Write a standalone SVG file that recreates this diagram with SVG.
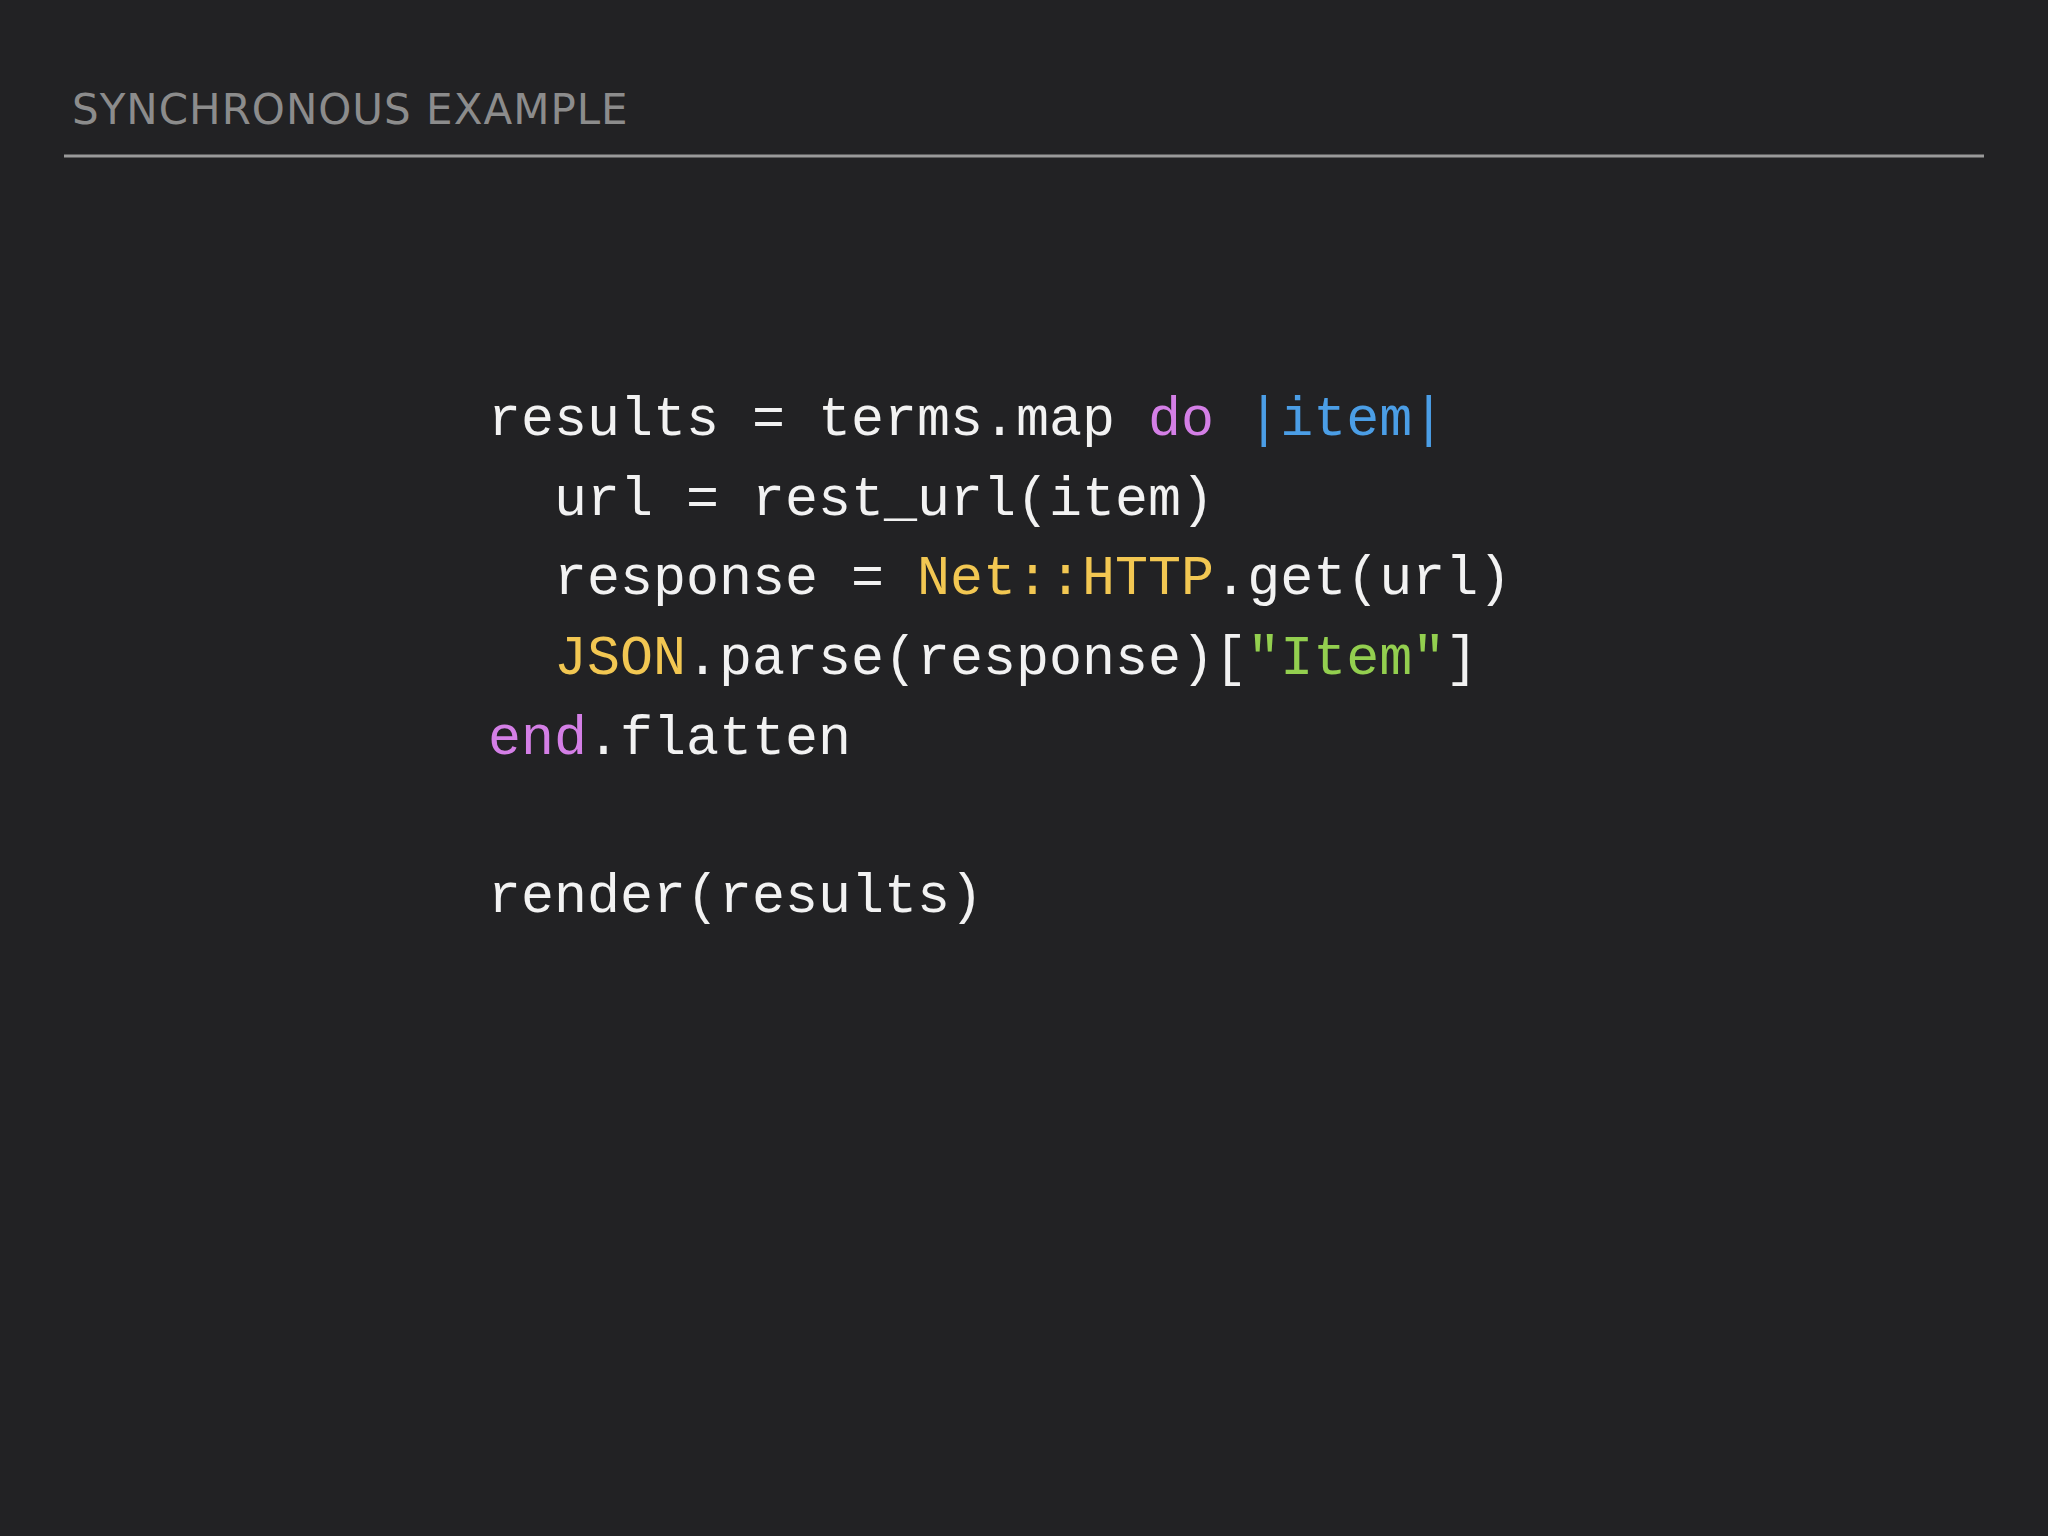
<svg xmlns="http://www.w3.org/2000/svg" width="2048" height="1536" viewBox="0 0 2048 1536">
<style>
.c{font-family:"Liberation Mono","DejaVu Sans Mono",monospace;font-size:55px;fill:#f2f2f2;white-space:pre}
.k{fill:#d47fe6}.b{fill:#4b9ee6}.y{fill:#f2c752}.g{fill:#93cf4f}
.t{font-family:"DejaVu Sans","Noto Sans",sans-serif;font-size:42px;fill:#8c8c8c;letter-spacing:1px}
</style>
<rect width="2048" height="1536" fill="#222224"/>
<text class="t" x="72" y="124">SYNCHRONOUS EXAMPLE</text>
<line x1="64" y1="156" x2="1984" y2="156" stroke="#9a9a9a" stroke-width="3"/>
<g id="code" xml:space="preserve">
<text class="c" x="488" y="435">results = terms.map <tspan class="k">do</tspan> <tspan class="b">|item|</tspan></text>
<text class="c" x="488" y="515">  url = rest_url(item)</text>
<text class="c" x="488" y="594">  response = <tspan class="y">Net::HTTP</tspan>.get(url)</text>
<text class="c" x="488" y="674">  <tspan class="y">JSON</tspan>.parse(response)[<tspan class="g">"Item"</tspan>]</text>
<text class="c" x="488" y="754"><tspan class="k">end</tspan>.flatten</text>
<text class="c" x="488" y="912">render(results)</text>
</g>
</svg>
